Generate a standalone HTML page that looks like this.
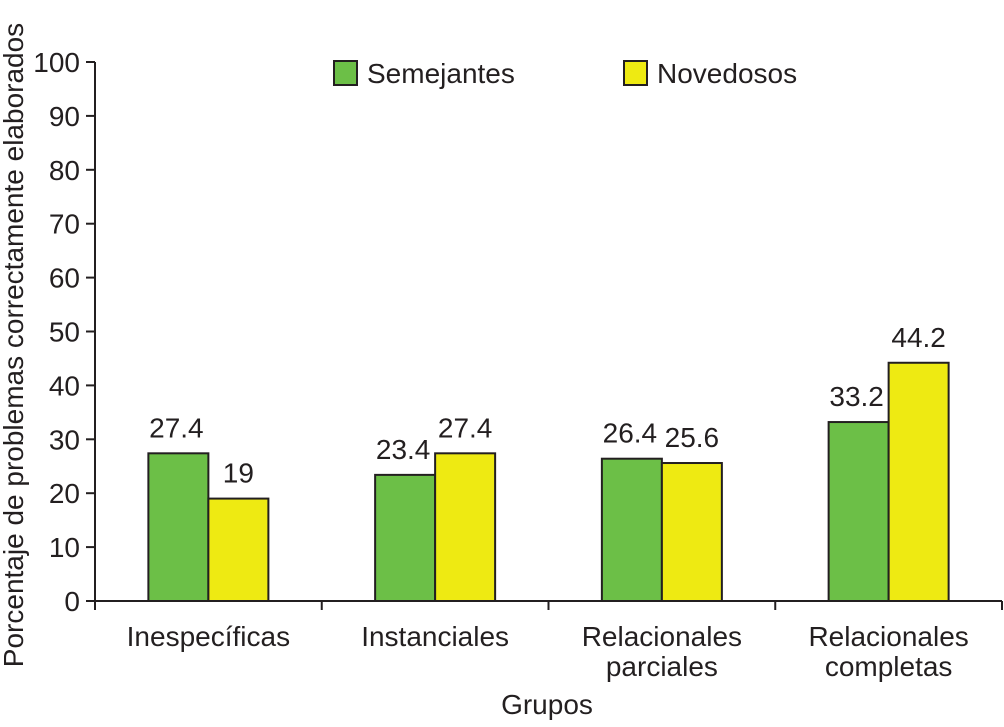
<!DOCTYPE html>
<html><head><meta charset="utf-8"><style>
body{margin:0;background:#fff}
svg text{font-family:"Liberation Sans",Arial,sans-serif;fill:#231f20}
</style></head><body>
<svg id="c" width="1004" height="722" xmlns="http://www.w3.org/2000/svg"></svg>
<script>
const categories=[["Inespecíficas"],["Instanciales"],["Relacionales","parciales"],["Relacionales","completas"]];
const semejantes=[27.4,23.4,26.4,33.2];
const novedosos=[19,27.4,25.6,44.2];
const semLabels=["27.4","23.4","26.4","33.2"];
const novLabels=["19","27.4","25.6","44.2"];
const yTicks=[0,10,20,30,40,50,60,70,80,90,100];
const svg=document.getElementById('c');
const NS='http://www.w3.org/2000/svg';
const x0=95,x1=1002,y0=601,y100=62;
const FS=28;
const y=v=>y0-(y0-y100)*v/100;
const bw=(x1-x0)/categories.length;
const cx=i=>x0+bw*(i+0.5);
function mk(t,a,txt){const e=document.createElementNS(NS,t);for(const k in a)e.setAttribute(k,a[k]);if(txt!==undefined)e.textContent=txt;svg.appendChild(e);return e;}
categories.forEach((c,i)=>{
 let e=mk('rect',{x:cx(i)-60,y:y(semejantes[i]),width:60,height:y0-y(semejantes[i]),fill:'#6cbf47',stroke:'#231f20','stroke-width':2});
 
 
 e=mk('rect',{x:cx(i),y:y(novedosos[i]),width:60,height:y0-y(novedosos[i]),fill:'#eeea12',stroke:'#231f20','stroke-width':2});
 
 
 e=mk('text',{x:cx(i)-32,y:y(semejantes[i])-16,'text-anchor':'middle','font-size':FS},semLabels[i]);
 
 
 e=mk('text',{x:cx(i)+30,y:y(novedosos[i])-16,'text-anchor':'middle','font-size':FS},novLabels[i]);
 
 
 c.forEach((line,j)=>{
  e=mk('text',{x:cx(i),y:646+j*30,'text-anchor':'middle','font-size':FS},line);
  
  
 });
 e=mk('line',{x1:x0+bw*(i+1),x2:x0+bw*(i+1),y1:y0,y2:610,stroke:'#231f20','stroke-width':2});
 
 
});
let a=mk('line',{x1:x0,x2:x0,y1:y100,y2:610,stroke:'#231f20','stroke-width':2});

a=mk('line',{x1:x0,x2:x1,y1:y0,y2:y0,stroke:'#231f20','stroke-width':2});

yTicks.forEach(v=>{
 let e=mk('line',{x1:86,x2:x0,y1:y(v),y2:y(v),stroke:'#231f20','stroke-width':2});
 
 
 e=mk('text',{x:80,y:y(v)+10,'text-anchor':'end','font-size':FS},String(v));
 
 
});
a=mk('text',{x:547,y:714,'text-anchor':'middle','font-size':FS},'Grupos');

a=mk('text',{x:0,y:0,'text-anchor':'middle','font-size':FS,transform:'translate(23,345) rotate(-90)'},'Porcentaje de problemas correctamente elaborados');

a=mk('rect',{x:334,y:61,width:23,height:24,fill:'#6cbf47',stroke:'#231f20','stroke-width':2});

a=mk('text',{x:367,y:83,'font-size':FS},'Semejantes');

a=mk('rect',{x:624,y:61,width:23,height:24,fill:'#eeea12',stroke:'#231f20','stroke-width':2});

a=mk('text',{x:657,y:83,'font-size':FS},'Novedosos');

</script>
</body></html>
